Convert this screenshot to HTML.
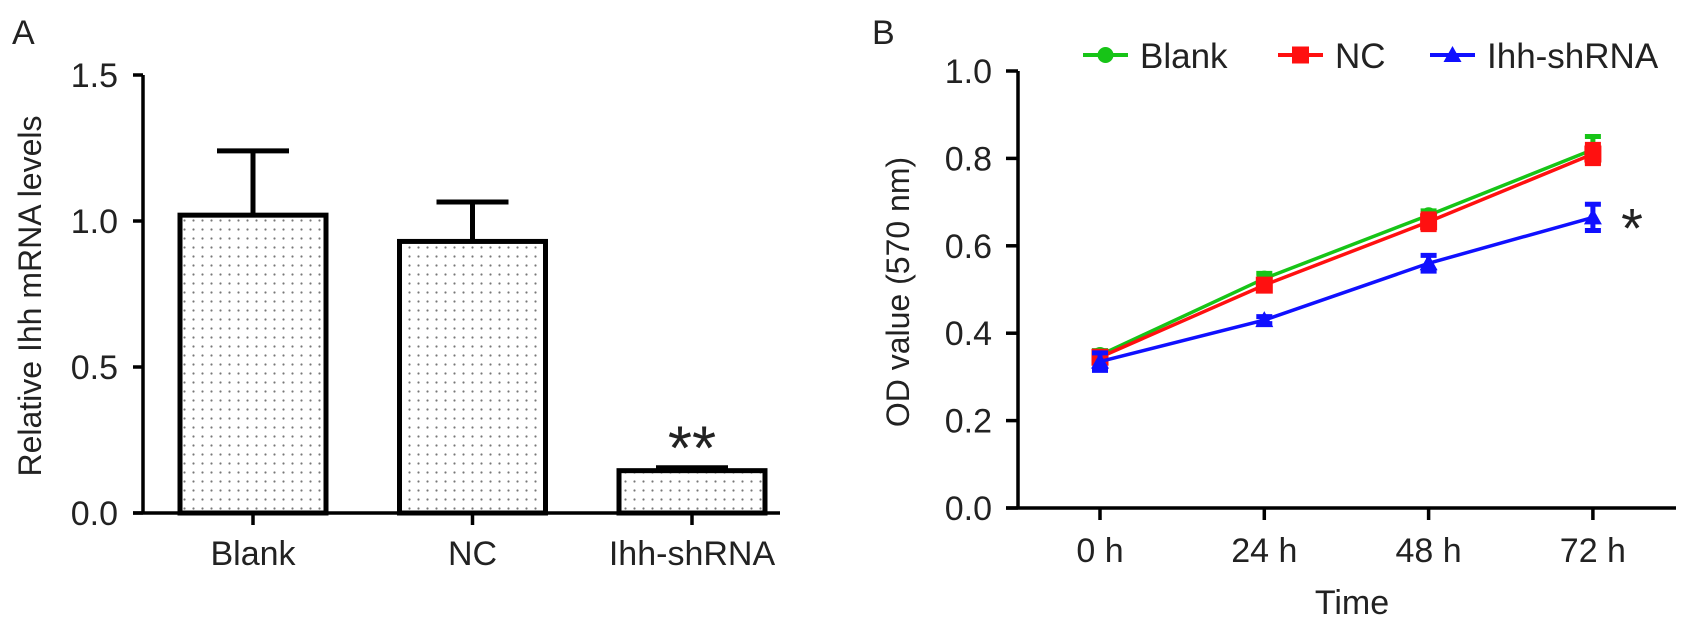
<!DOCTYPE html>
<html><head><meta charset="utf-8"><style>
html,body{margin:0;padding:0;background:#fff;}
svg{display:block;font-family:"Liberation Sans",Arial,sans-serif;}
</style></head><body>
<svg id="fig" width="1690" height="629" viewBox="0 0 1690 629" xmlns="http://www.w3.org/2000/svg">
<defs>
<pattern id="dots" width="9" height="9" patternUnits="userSpaceOnUse">
<rect width="9" height="9" fill="#fff"/>
<circle cx="4.5" cy="4.5" r="1.1" fill="#777"/>
</pattern>
</defs>
<g id="panelA"></g>
<g id="panelB"></g>
</svg>
<script>
// ---- Panel A data ----
const barCategories = ["Blank", "NC", "Ihh-shRNA"];
const barValues = [1.02, 0.93, 0.145];
const barErrors = [0.22, 0.135, 0.01];
const yTicksA = [0.0, 0.5, 1.0, 1.5];
const yTickLabelsA = ["0.0", "0.5", "1.0", "1.5"];

// ---- Panel B data ----
const timeLabels = ["0 h", "24 h", "48 h", "72 h"];
const seriesNames = ["Blank", "NC", "Ihh-shRNA"];
const blankValues = [0.35, 0.525, 0.67, 0.82];
const ncValues = [0.345, 0.51, 0.655, 0.81];
const ihhValues = [0.335, 0.43, 0.56, 0.665];
const blankErrors = [0.01, 0.012, 0.01, 0.03];
const ncErrors = [0.01, 0.012, 0.018, 0.022];
const ihhErrors = [0.02, 0.008, 0.018, 0.03];
const yTicksB = [0.0, 0.2, 0.4, 0.6, 0.8, 1.0];
const yTickLabelsB = ["0.0", "0.2", "0.4", "0.6", "0.8", "1.0"];

const NS = "http://www.w3.org/2000/svg";
function mk(parent, tag, attrs, text) {
  const e = document.createElementNS(NS, tag);
  for (const k in attrs) e.setAttribute(k, attrs[k]);
  if (text !== undefined) e.textContent = text;
  parent.appendChild(e);
  return e;
}
const FS = 34;

// ===== Panel A =====
(function(){
  const g = document.getElementById("panelA");
  const x0 = 143, xEnd = 780, yBase = 513, yTop = 75;
  const yA = v => yBase - (v / 1.5) * (yBase - yTop);
  const xA = i => 253 + i * 219.5;
  const bw = 146;
  let t = mk(g, "text", {x: 12, y: 44, "font-size": FS, fill: "#222"}, "A");
  
  
  let ax = mk(g, "line", {x1: x0, y1: yTop, x2: x0, y2: yBase, stroke: "#000", "stroke-width": 3.5});
  
  
  let xx = mk(g, "line", {x1: x0 - 10, y1: yBase, x2: xEnd, y2: yBase, stroke: "#000", "stroke-width": 3.5});
  
  
  yTicksA.forEach((v, i) => {
    const y = yA(v);
    const tk = mk(g, "line", {x1: x0 - 10, y1: y, x2: x0, y2: y, stroke: "#000", "stroke-width": 3.5});
    
    
    const lb = mk(g, "text", {x: x0 - 25, y: y + 12, "font-size": FS, "text-anchor": "end", fill: "#222"}, yTickLabelsA[i]);
    
    
  });
  const yl = mk(g, "text", {x: 0, y: 0, "font-size": 32, "text-anchor": "middle", fill: "#222", transform: "translate(41,296) rotate(-90)"}, "Relative Ihh mRNA levels");
  
  
  barCategories.forEach((c, i) => {
    const cx = xA(i), top = yA(barValues[i]), et = yA(barValues[i] + barErrors[i]);
    const eb = mk(g, "line", {x1: cx, y1: top, x2: cx, y2: et, stroke: "#000", "stroke-width": 5});
    
    
    const ec = mk(g, "line", {x1: cx - 36, y1: et, x2: cx + 36, y2: et, stroke: "#000", "stroke-width": 5});
    
    
    const r = mk(g, "rect", {x: cx - bw / 2, y: top, width: bw, height: yBase - top, fill: "url(#dots)", stroke: "#000", "stroke-width": 5});
    
    
    const tk = mk(g, "line", {x1: cx, y1: yBase, x2: cx, y2: yBase + 12, stroke: "#000", "stroke-width": 3.5});
    
    
    const lb = mk(g, "text", {x: cx, y: yBase + 52, "font-size": FS, "text-anchor": "middle", fill: "#222"}, c);
    
    
  });
  const st = mk(g, "text", {x: xA(2), y: yA(barValues[2] + barErrors[2]) + 2, "font-size": 62, "text-anchor": "middle", fill: "#222"}, "**");
  
  
})();

// ===== Panel B =====
(function(){
  const g = document.getElementById("panelB");
  const x0 = 1018, xEnd = 1676, yBase = 508, yTop = 71;
  const yB = v => yBase - v * (yBase - yTop);
  const xB = i => 1100 + i * 164.3;
  let t = mk(g, "text", {x: 872, y: 44, "font-size": FS, fill: "#222"}, "B");
  
  
  let ax = mk(g, "line", {x1: x0, y1: yTop, x2: x0, y2: yBase, stroke: "#000", "stroke-width": 3.5});
  
  
  let xx = mk(g, "line", {x1: x0 - 12, y1: yBase, x2: xEnd, y2: yBase, stroke: "#000", "stroke-width": 3.5});
  
  
  yTicksB.forEach((v, i) => {
    const y = yB(v);
    const tk = mk(g, "line", {x1: x0 - 12, y1: y, x2: x0, y2: y, stroke: "#000", "stroke-width": 3.5});
    
    
    const lb = mk(g, "text", {x: 992, y: y + 12, "font-size": FS, "text-anchor": "end", fill: "#222"}, yTickLabelsB[i]);
    
    
  });
  timeLabels.forEach((l, i) => {
    const tk = mk(g, "line", {x1: xB(i), y1: yBase, x2: xB(i), y2: yBase + 12, stroke: "#000", "stroke-width": 3.5});
    
    
    const lb = mk(g, "text", {x: xB(i), y: 562, "font-size": FS, "text-anchor": "middle", fill: "#222"}, l);
    
    
  });
  const yl = mk(g, "text", {x: 0, y: 0, "font-size": 32, "text-anchor": "middle", fill: "#222", transform: "translate(909,292) rotate(-90)"}, "OD value (570 nm)");
  
  
  const xl = mk(g, "text", {x: 1352, y: 614, "font-size": FS, "text-anchor": "middle", fill: "#222"}, "Time");
  
  

  const series = [
    {name: seriesNames[0], vals: blankValues, errs: blankErrors, color: "#17c417", shape: "circle"},
    {name: seriesNames[1], vals: ncValues, errs: ncErrors, color: "#ff1010", shape: "square"},
    {name: seriesNames[2], vals: ihhValues, errs: ihhErrors, color: "#1010ff", shape: "triangle"}
  ];
  function marker(parent, shape, cx, cy, color) {
    let m;
    if (shape === "circle") m = mk(parent, "circle", {cx: cx, cy: cy, r: 8, fill: color});
    else if (shape === "square") m = mk(parent, "rect", {x: cx - 8.5, y: cy - 8.5, width: 17, height: 17, fill: color});
    else m = mk(parent, "polygon", {points: `${cx},${cy - 9} ${cx + 9},${cy + 7} ${cx - 9},${cy + 7}`, fill: color});
    return m;
  }
  series.forEach((s, si) => {
    const sg = mk(g, "g", {});
    
    
    const pts = s.vals.map((v, i) => `${xB(i)},${yB(v)}`).join(" ");
    const pl = mk(sg, "polyline", {points: pts, fill: "none", stroke: s.color, "stroke-width": 3.5});
    
    
    s.vals.forEach((v, i) => {
      const cx = xB(i), y1 = yB(v + s.errs[i]), y2 = yB(v - s.errs[i]);
      const e = mk(sg, "path", {d: `M${cx},${y1}V${y2}M${cx - 8},${y1}H${cx + 8}M${cx - 8},${y2}H${cx + 8}`, stroke: s.color, "stroke-width": 5, fill: "none"});
      
      
      const m = marker(sg, s.shape, cx, yB(v), s.color);
      
      
    });
  });
  const st = mk(g, "text", {x: 1632, y: yB(ihhValues[3]) + 30, "font-size": 56, "text-anchor": "middle", fill: "#222"}, "*");
  
  

  // legend
  const legX = [1083, 1278, 1430];
  const legY = 55;
  series.forEach((s, i) => {
    const lg = mk(g, "g", {});
    
    
    mk(lg, "line", {x1: legX[i], y1: legY, x2: legX[i] + 45, y2: legY, stroke: s.color, "stroke-width": 4});
    marker(lg, s.shape, legX[i] + 22.5, legY, s.color);
    mk(lg, "text", {x: legX[i] + 57, y: legY + 13, "font-size": 35, fill: "#222"}, s.name);
  });
})();
</script>
</body></html>
